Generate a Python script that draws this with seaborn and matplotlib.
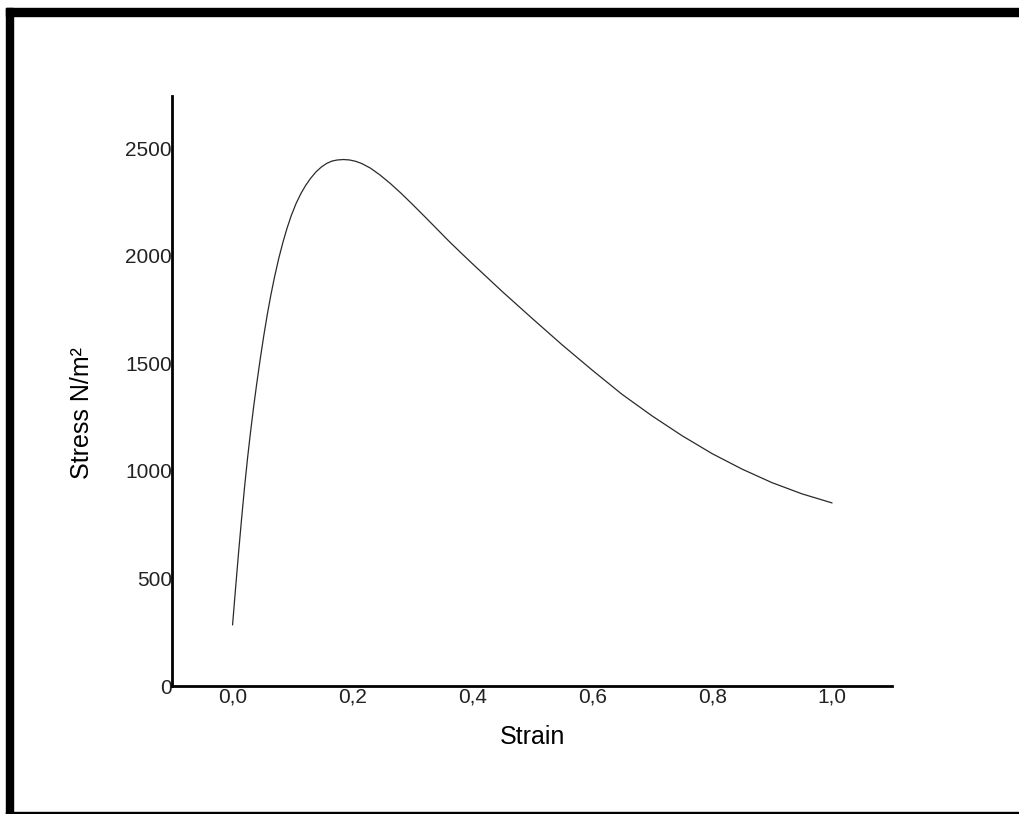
import numpy as np
import pandas as pd
import matplotlib
matplotlib.use("Agg")
import matplotlib.pyplot as plt
import seaborn as sns
from matplotlib.patches import Rectangle

# values
strain = [0.0, 0.005, 0.010, 0.015, 0.020, 0.025, 0.030, 0.035, 0.040, 0.046,
          0.052, 0.058, 0.064, 0.070, 0.077, 0.084, 0.091, 0.098, 0.106, 0.114,
          0.122, 0.130, 0.139, 0.148, 0.157, 0.166, 0.175, 0.185, 0.195, 0.205,
          0.215, 0.230, 0.246, 0.263, 0.280, 0.300, 0.324, 0.342, 0.360, 0.380,
          0.40, 0.45, 0.50, 0.55, 0.60, 0.65, 0.70, 0.75, 0.80, 0.85,
          0.90, 0.95, 1.0]
stress = [284, 454, 619, 776, 924, 1059, 1181, 1294, 1399, 1517,
          1627, 1728, 1819, 1901, 1987, 2062, 2129, 2187, 2243, 2289,
          2327, 2359, 2389, 2412, 2429, 2440, 2445, 2447, 2445, 2439,
          2429, 2407, 2375, 2336, 2293, 2239, 2172, 2121, 2070, 2016,
          1963, 1833, 1708, 1585, 1468, 1355, 1255, 1163, 1080, 1008,
          945, 893, 851]
xticks = [0.0, 0.2, 0.4, 0.6, 0.8, 1.0]
xticklabels = ["0,0", "0,2", "0,4", "0,6", "0,8", "1,0"]
yticks = [0, 500, 1000, 1500, 2000, 2500]

df = pd.DataFrame({"Strain": strain, "Stress": stress})

sns.set_style("white")
plt.rcParams['font.family'] = ['Liberation Sans', 'DejaVu Sans']

fig = plt.figure(figsize=(10.19, 8.14), dpi=100)
ax = fig.add_axes([0.1688, 0.1572, 0.7066, 0.7248])

sns.lineplot(data=df, x="Strain", y="Stress", ax=ax, sort=False,
             color="#2a2a2a", linewidth=0.9)

ax.set_xlim(-0.101, 1.1)
ax.set_ylim(0, 2742)
ax.set_xticks(xticks)
ax.set_xticklabels(xticklabels)
ax.set_yticks(yticks)
ax.tick_params(axis="both", length=0, labelsize=15, labelcolor="#222222")
ax.tick_params(axis="y", pad=0)
ax.tick_params(axis="x", pad=1)

for s in ["top", "right"]:
    ax.spines[s].set_visible(False)
for s in ["left", "bottom"]:
    ax.spines[s].set_linewidth(2.0)
    ax.spines[s].set_color("black")

ax.set_xlabel("Strain", fontsize=18, color="black")
ax.set_ylabel("Stress N/m\u00b2", fontsize=18, color="black")
ax.xaxis.set_label_coords(0.5, -0.066)
ax.yaxis.set_label_coords(-0.108, 0.463)

# black frame around the picture
fig.patches.append(Rectangle((6 / 1019, 1 - 16 / 814), 1, 8 / 814,
                             transform=fig.transFigure, color="black", zorder=10))
fig.patches.append(Rectangle((6 / 1019, 0), 7 / 1019, 1 - 8 / 814,
                             transform=fig.transFigure, color="black", zorder=10))
fig.patches.append(Rectangle((6 / 1019, 0), 1, 2 / 814,
                             transform=fig.transFigure, color="black", zorder=10))

fig.savefig("out.png", dpi=100, facecolor="white")
